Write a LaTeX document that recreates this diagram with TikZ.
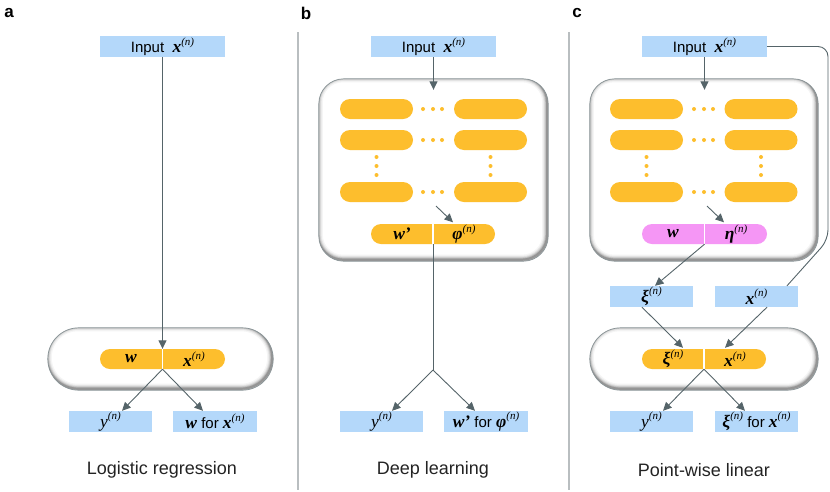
\documentclass[tikz,border=0pt]{standalone}
\usepackage{fontspec}
\setmainfont{Liberation Sans}
\newfontfamily\lser{Liberation Serif}
\usetikzlibrary{arrows.meta,calc}
\definecolor{boxblue}{RGB}{180,216,250}
\definecolor{pillorange}{RGB}{253,190,45}
\definecolor{pillpink}{RGB}{245,150,245}
\definecolor{arrowgray}{RGB}{85,100,105}
\definecolor{sepgray}{RGB}{185,190,192}
\definecolor{titlegray}{RGB}{35,35,35}
\newcommand\bv[1]{{\lser\bfseries\itshape\fontsize{17.5}{17.5}\selectfont #1}}
\newcommand\iv[1]{{\lser\itshape\fontsize{17.5}{17.5}\selectfont #1}}
\newcommand\sn{\raisebox{0.5em}{\lser\itshape\fontsize{11}{11}\selectfont(n)}}
\newcommand\innershade[2]{%
  \begin{scope}
    \clip[rounded corners=#2] (#1.south west) rectangle (#1.north east);
    \foreach \lw/\op in {10/0.04,7.5/0.06,5.5/0.09,3.8/0.12,2.2/0.18}{
      \draw[black, opacity=\op, line width=\lw pt, rounded corners=#2]
        ($(#1.south west)+(-1,-1.5)$) rectangle ($(#1.north east)+(-1,-1.5)$);
    }
  \end{scope}
  \draw[arrowgray!70, line width=0.7pt, rounded corners=#2] (#1.south west) rectangle (#1.north east);
}
\tikzset{
  bluebox/.style={fill=boxblue, minimum height=21pt, inner sep=0pt, font=\fontsize{15}{15}\selectfont},
  pill/.style={fill=pillorange, rounded corners=10pt, minimum height=20pt, inner sep=0pt},
  pinkpill/.style={pill, fill=pillpink},
  lbl/.style={inner sep=0pt, font=\fontsize{15}{15}\selectfont},
  panel/.style={inner sep=0pt, font=\bfseries\fontsize{17}{17}\selectfont},
  title/.style={inner sep=0pt, text=titlegray, font=\fontsize{18}{18}\selectfont},
  outerbox/.style={fill=white, inner sep=0pt},
  conn/.style={draw=arrowgray, line width=0.9pt},
  arr/.style={conn, -{Triangle[length=8.5pt,width=8pt]}},
  divider/.style={draw=white, line width=1.2pt},
  sepline/.style={draw=sepgray, line width=1.2pt},
  dotc/.style={fill=pillorange},
}
\begin{document}
\begin{tikzpicture}[x=1pt,y=-1pt]
\useasboundingbox (0,0) rectangle (830,491);

% separators
\coordinate (s1t) at (298,32); \coordinate (s1b) at (298,490);
\coordinate (s2t) at (569,32); \coordinate (s2b) at (569,490);
\draw[sepline] (s1t) -- (s1b);
\draw[sepline] (s2t) -- (s2b);

% ---------------- panel a ----------------
\node[panel] (la) at (9,13) {a};
\node[bluebox, minimum width=125pt] (ina) at (162.5,46.5) {Input\ \ \bv{x}\sn};
\node[outerbox, minimum width=225pt, minimum height=62pt, rounded corners=31pt] (oa) at (160.5,359) {};
\innershade{oa}{31pt}
\node[pill, minimum width=125pt] (pa) at (162.5,359) {};
\draw[divider] (pa.north) -- (pa.south);
\node[lbl] (pa1) at (131,359) {\bv{w}};
\node[lbl] (pa2) at (194,359) {\bv{x}\sn};
\draw[arr] (ina.south) -- (pa.north);
\node[bluebox, minimum width=83pt] (ya) at (110.5,421.5) {\iv{y}\sn};
\node[bluebox, minimum width=84pt] (wa) at (215,421.5) {\bv{w} for \bv{x}\sn};
\draw[arr] (pa.south) -- ($(ya.north)+(11.5,0)$);
\draw[arr] (pa.south) -- ($(wa.north)+(-12,0)$);
\node[title] (ta) at (162,470) {Logistic regression};

% ---------------- panel b ----------------
\node[panel] (lb) at (306,13) {b};
\node[bluebox, minimum width=125pt] (inb) at (433.5,46.5) {Input\ \ \bv{x}\sn};
\node[outerbox, minimum width=229pt, minimum height=182pt, rounded corners=25pt] (ob) at (433.5,170) {};
\innershade{ob}{25pt}
\draw[arr] (inb.south) -- ($(ob.north)+(0,11)$);
\foreach \r/\yy in {1/109,2/140,3/192}{
  \node[pill, minimum width=73pt] (bl\r) at (376.5,\yy) {};
  \node[pill, minimum width=73pt] (br\r) at (490.5,\yy) {};
  \foreach \xx in {423,433,442}{\fill[dotc] (\xx,\yy) circle (2pt);}
}
\foreach \yy in {157,166,175}{
  \fill[dotc] (376.5,\yy) circle (2pt);
  \fill[dotc] (490.5,\yy) circle (2pt);
}
\node[pill, minimum width=124pt] (pb) at (433,234) {};
\draw[divider] (pb.north) -- (pb.south);
\node[lbl] (pb1) at (402,234) {\bv{w’}};
\node[lbl] (pb2) at (464,234) {\bv{φ}\sn};
\coordinate (bs) at (436,206);
\draw[arr] (bs) -- ($(pb.north)+(20,-1.5)$);
\coordinate (bb) at (433,370);
\node[bluebox, minimum width=83pt] (yb) at (381.5,421.5) {\iv{y}\sn};
\node[bluebox, minimum width=84pt] (wb) at (486,421.5) {\bv{w’} for \bv{φ}\sn};
\draw[conn] (pb.south) -- (bb);
\draw[arr] (bb) -- ($(yb.north)+(10.5,0)$);
\draw[arr] (bb) -- ($(wb.north)+(-11,0)$);
\node[title] (tb) at (433,470) {Deep learning};

% ---------------- panel c ----------------
\node[panel] (lc) at (577,13) {c};
\node[bluebox, minimum width=125pt] (inc) at (704.5,46.5) {Input\ \ \bv{x}\sn};
\node[outerbox, minimum width=228pt, minimum height=182pt, rounded corners=25pt] (oc) at (704,170) {};
\innershade{oc}{25pt}
\draw[arr] (inc.south) -- ($(oc.north)+(0.5,11)$);
\foreach \r/\yy in {1/109,2/140,3/192}{
  \node[pill, minimum width=73pt] (cl\r) at (646.5,\yy) {};
  \node[pill, minimum width=73pt] (cr\r) at (761,\yy) {};
  \foreach \xx in {694,704,713}{\fill[dotc] (\xx,\yy) circle (2pt);}
}
\foreach \yy in {157,166,175}{
  \fill[dotc] (646.5,\yy) circle (2pt);
  \fill[dotc] (761,\yy) circle (2pt);
}
\node[pinkpill, minimum width=125pt] (pk) at (704.5,234) {};
\draw[divider] (pk.north) -- (pk.south);
\node[lbl] (pk1) at (673,234) {\bv{w}};
\node[lbl] (pk2) at (736,234) {\bv{η}\sn};
\coordinate (cs) at (707,206);
\draw[arr] (cs) -- ($(pk.north)+(19.5,-1.5)$);

\node[bluebox, minimum width=83pt] (xib) at (651.5,296.5) {\bv{ξ}\sn};
\node[bluebox, minimum width=83pt] (xcb) at (756.5,296.5) {\bv{x}\sn};
\draw[arr] (pk.south) -- ($(xib.north)+(3.5,0)$);
\coordinate (rc1) at (828,46.5);
\coordinate (rc2) at (828,240);
\draw[conn, rounded corners=10pt] (inc.east) -- (rc1) -- (rc2) -- ($(xcb.north)+(30.5,0)$);

\node[outerbox, minimum width=228pt, minimum height=62pt, rounded corners=31pt] (oc2) at (704,359) {};
\innershade{oc2}{31pt}
\node[pill, minimum width=124pt] (pc) at (704,359) {};
\draw[divider] (pc.north) -- (pc.south);
\node[lbl] (pc1) at (673,359) {\bv{ξ}\sn};
\node[lbl] (pc2) at (735,359) {\bv{x}\sn};
\draw[arr] ($(xib.south)+(-9.5,0)$) -- ($(pc.north)+(-21,-1)$);
\draw[arr] ($(xcb.south)+(10.5,0)$) -- ($(pc.north)+(21,-1)$);
\node[bluebox, minimum width=83pt] (yc) at (651.5,421.5) {\iv{y}\sn};
\node[bluebox, minimum width=83pt] (wc) at (756.5,421.5) {\bv{ξ}\sn\ for \bv{x}\sn};
\draw[arr] (pc.south) -- ($(yc.north)+(11.5,0)$);
\draw[arr] (pc.south) -- ($(wc.north)+(-11.5,0)$);
\node[title] (tc) at (704,470) {Point-wise linear};
\end{tikzpicture}
\end{document}
